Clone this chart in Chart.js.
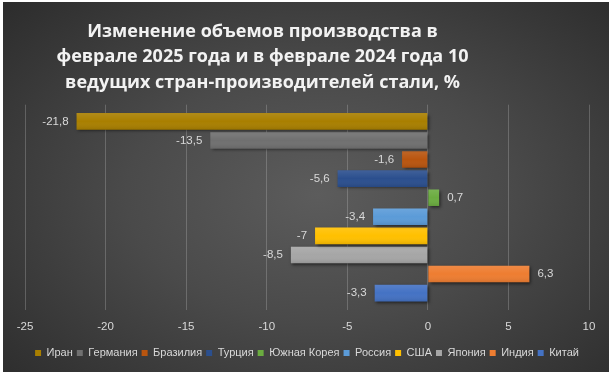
<!DOCTYPE html>
<html>
<head>
<meta charset="utf-8">
<script src="https://cdn.jsdelivr.net/npm/chart.js@4"></script>
<style>
  html, body { margin: 0; padding: 0; background: #ffffff; }
  #wrap {
    position: absolute; left: 3px; top: 2px; width: 606px; height: 370px;
    background: radial-gradient(ellipse 70% 75% at 52% 52%, #5c5c5c 0%, #4a4a4a 45%, #2d2d2d 100%);
  }
  canvas { display: block; }
</style>
</head>
<body>
<div id="wrap"><canvas id="c" width="606" height="370"></canvas></div>
<script>
const countries = ["Иран", "Германия", "Бразилия", "Турция", "Южная Корея", "Россия", "США", "Япония", "Индия", "Китай"];
const values = [-21.8, -13.5, -1.6, -5.6, 0.7, -3.4, -7, -8.5, 6.3, -3.3];
const barColors = ["#a97f00", "#707070", "#b9550f", "#2b4f8e", "#6bac40", "#5b9bd8", "#ffc000", "#a6a6a6", "#ee7d31", "#4472c4"];
const titleLines = ["Изменение объемов производства в", "феврале 2025 года и в феврале 2024 года 10", "ведущих стран-производителей стали, %"];
const xMin = -25, xMax = 10, xStep = 5;

const fmt = v => String(v).replace('.', ',');
const smallFont = '"Liberation Sans", Arial, sans-serif';

const titleShift = {
  id: 'titleShift',
  afterLayout(chart) {
    const t = chart.titleBlock;
    if (t) { t.left = 0; t.right = 519; }
  }
};

const shadowPlugin = {
  id: 'barShadow',
  beforeDatasetsDraw(chart) {
    const ctx = chart.ctx;
    ctx.save();
    ctx.shadowColor = 'rgba(0,0,0,0.55)';
    ctx.shadowBlur = 3;
    ctx.shadowOffsetX = 1.5;
    ctx.shadowOffsetY = 1.5;
  },
  afterDatasetsDraw(chart) {
    const ctx = chart.ctx;
    ctx.restore();
    chart.data.datasets.forEach((ds, i) => {
      const meta = chart.getDatasetMeta(i);
      meta.data.forEach((el, j) => {
        const p = el.getProps(['x', 'y', 'base', 'height'], true);
        const top = p.y - p.height / 2;
        const left = Math.min(p.x, p.base);
        const w = Math.abs(p.x - p.base);
        const g = ctx.createLinearGradient(0, top, 0, top + p.height);
        g.addColorStop(0, 'rgba(255,255,255,0.10)');
        g.addColorStop(0.5, 'rgba(255,255,255,0)');
        g.addColorStop(1, 'rgba(0,0,0,0.10)');
        ctx.save();
        ctx.fillStyle = g;
        ctx.fillRect(left, top, w, p.height);
        ctx.restore();
        const v = ds.data[j];
        ctx.save();
        ctx.font = '11.5px ' + smallFont;
        ctx.fillStyle = '#d9d9d9';
        ctx.textBaseline = 'middle';
        if (v < 0) { ctx.textAlign = 'right'; ctx.fillText(fmt(v), p.x - 8, p.y); }
        else { ctx.textAlign = 'left'; ctx.fillText(fmt(v), p.x + 8, p.y); }
        ctx.restore();
      });
    });
  }
};

new Chart(document.getElementById('c'), {
  type: 'bar',
  data: {
    labels: [''],
    datasets: countries.map((name, i) => ({
      label: name,
      data: [values[i]],
      backgroundColor: barColors[i],
      borderWidth: 0,
      categoryPercentage: 0.93,
      barPercentage: 0.87
    }))
  },
  options: {
    responsive: false,
    animation: false,
    indexAxis: 'y',
    layout: { padding: { left: 22, right: 20, top: 12, bottom: 3.4 } },
    scales: {
      x: {
        min: xMin, max: xMax,
        ticks: {
          stepSize: xStep,
          color: '#d9d9d9',
          font: { family: smallFont, size: 11.5 },
          padding: 10
        },
        grid: { color: 'rgba(200,200,200,0.28)', lineWidth: 1, drawTicks: false },
        border: { display: false }
      },
      y: { display: false }
    },
    plugins: {
      title: {
        display: true,
        text: titleLines,
        color: '#f2f2f2',
        font: { family: '"Open Sans", sans-serif', size: 18, weight: 'bold', lineHeight: 1.42 },
        padding: { top: 5, bottom: 9 }
      },
      legend: {
        position: 'bottom',
        labels: {
          color: '#d9d9d9',
          boxWidth: 6, boxHeight: 6,
          padding: 4,
          font: { family: smallFont, size: 11 }
        }
      },
      tooltip: { enabled: false }
    }
  },
  plugins: [shadowPlugin, titleShift]
});
</script>
</body>
</html>
